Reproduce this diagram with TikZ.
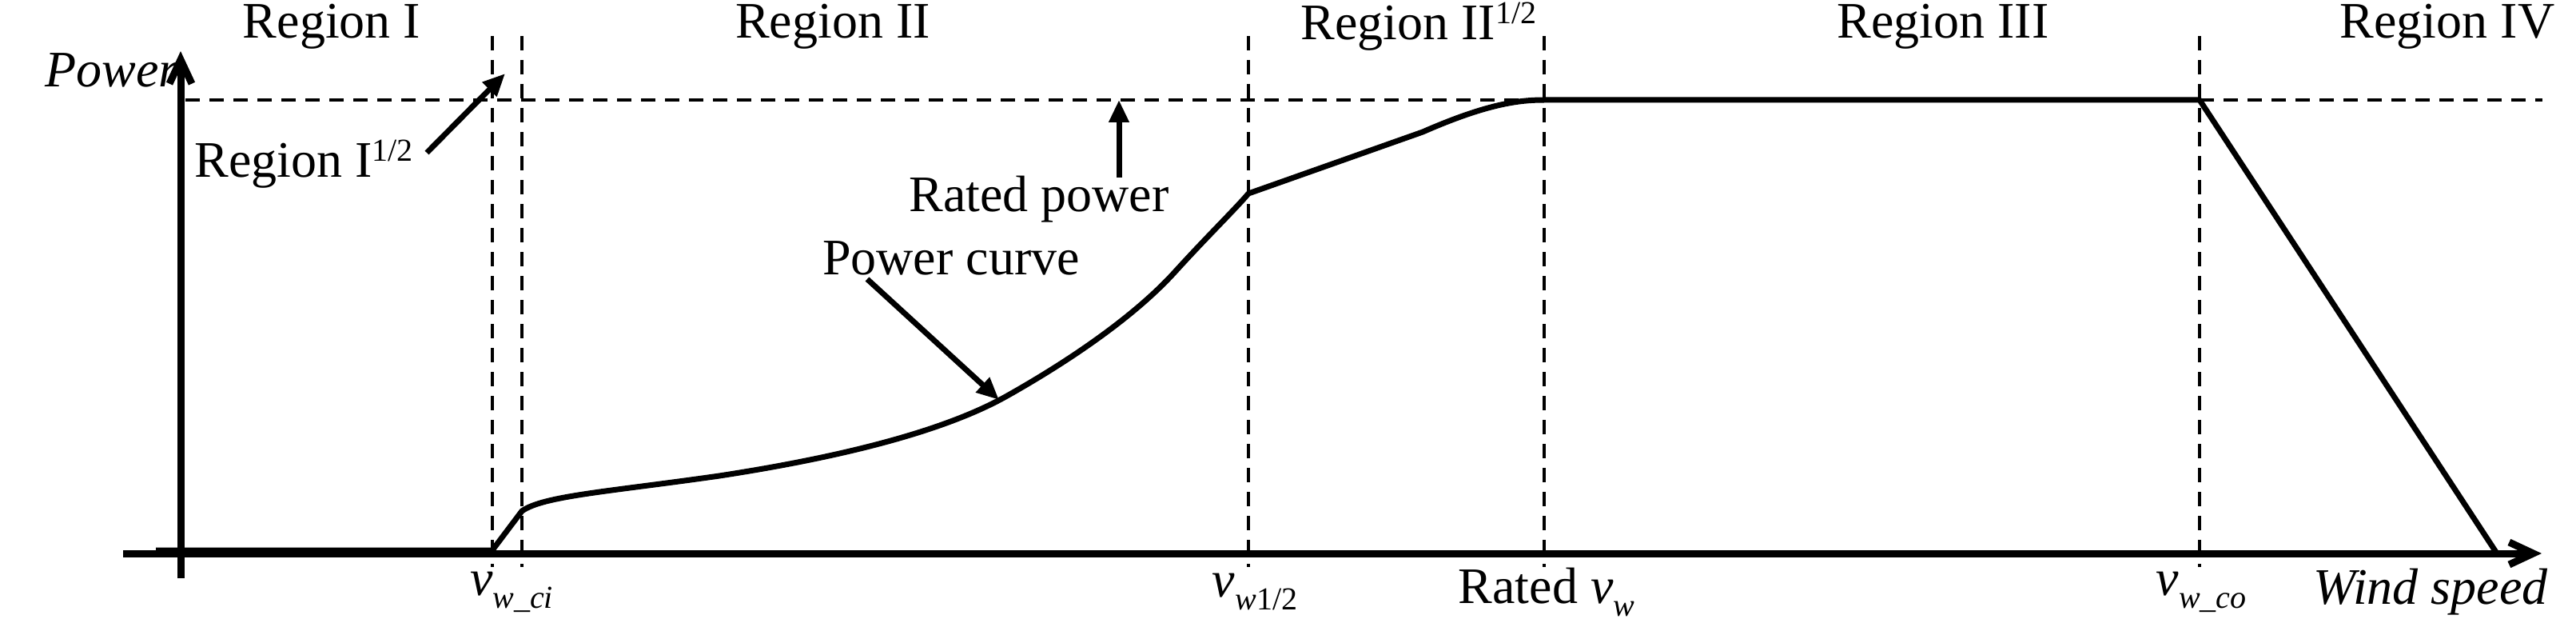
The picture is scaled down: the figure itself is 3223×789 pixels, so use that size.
\documentclass[tikz,border=0pt]{standalone}
\usepackage{fontspec}
\setmainfont{Liberation Serif}
\usetikzlibrary{arrows.meta}
\newcommand{\sml}[1]{{\fontsize{40}{42}\selectfont #1}}
\newcommand{\vsub}[1]{{\itshape v}\raisebox{-16pt}{\sml{#1}}}
\begin{document}
\begin{tikzpicture}[x=1pt,y=-1pt,
  lbl/.style={font=\fontsize{64}{68}\selectfont, inner sep=0pt},
  ax/.style={line width=9pt},
  dsh/.style={line width=4pt, dash pattern=on 18pt off 12pt},
  crv/.style={line width=7pt, line join=round},
  ptr/.style={line width=7pt, -{Triangle[length=28pt,width=24pt]}}]
\useasboundingbox (0,0) rectangle (3223,789);
% axes
\coordinate (xo) at (154,692); \coordinate (xe) at (3180,692);
\coordinate (yo) at (226,723); \coordinate (ye) at (226,64);
\draw[ax,-{Straight Barb[length=30pt,width=28pt]}] (xo) -- (xe);
\draw[ax,-{Straight Barb[length=30pt,width=28pt]}] (yo) -- (ye);
% rated line
\coordinate (r0) at (232,125); \coordinate (r1) at (3181,125);
\draw[dsh] (r0) -- (r1);
% vertical dashed
\foreach \n/\x in {a/616,b/653,c/1562,d/1932,e/2752}{
  \coordinate (\n t) at (\x,45); \coordinate (\n b) at (\x,709);
  \draw[dsh] (\n t) -- (\n b);}
% curve
\draw[crv] (195,688) -- (616,688) -- (653,639)
  .. controls (680,620) and (760,615) .. (900,595)
  .. controls (1050,572) and (1180,540) .. (1260,495)
  .. controls (1340,450) and (1420,395) .. (1470,340)
  .. controls (1510,296) and (1545,262) .. (1562,242)
  -- (1780,165) .. controls (1860,130) and (1900,125) .. (1932,125)
  -- (2752,125) -- (3124,692);
% region labels
\node[lbl] (R1) at (415,33) {Region I};
\node[lbl] (R2) at (1042,33) {Region II};
\node[lbl] (R25) at (1775,33) {Region II\raisebox{20pt}{\sml{1/2}}};
\node[lbl] (R3) at (2431,33) {Region III};
\node[lbl] (R4) at (3062,33) {Region IV};
\node[lbl,font=\fontsize{64}{68}\selectfont\itshape] (P) at (140,88) {Power};
\node[lbl] (R15) at (380,205) {Region I\raisebox{20pt}{\sml{1/2}}};
\coordinate (a1s) at (534,191); \coordinate (a1e) at (632,92);
\draw[ptr] (a1s) -- (a1e);
\node[lbl] (RP) at (1300,249) {Rated power};
\coordinate (a2s) at (1400,222); \coordinate (a2e) at (1400,125);
\draw[ptr] (a2s) -- (a2e);
\node[lbl] (PC) at (1190,323) {Power curve};
\coordinate (a3s) at (1085,349); \coordinate (a3e) at (1250,500);
\draw[ptr] (a3s) -- (a3e);
% bottom labels
\node[lbl] (vci) at (640,740) {\vsub{\itshape w\_ci}};
\node[lbl] (vh) at (1570,740) {\vsub{\itshape w\upshape 1/2}};
\node[lbl] (vr) at (1935,740) {Rated \vsub{\itshape w}};
\node[lbl] (vco) at (2754,740) {\vsub{\itshape w\_co}};
\node[lbl,font=\fontsize{64}{68}\selectfont\itshape] (ws) at (3041,740) {Wind speed};
\end{tikzpicture}
\end{document}
